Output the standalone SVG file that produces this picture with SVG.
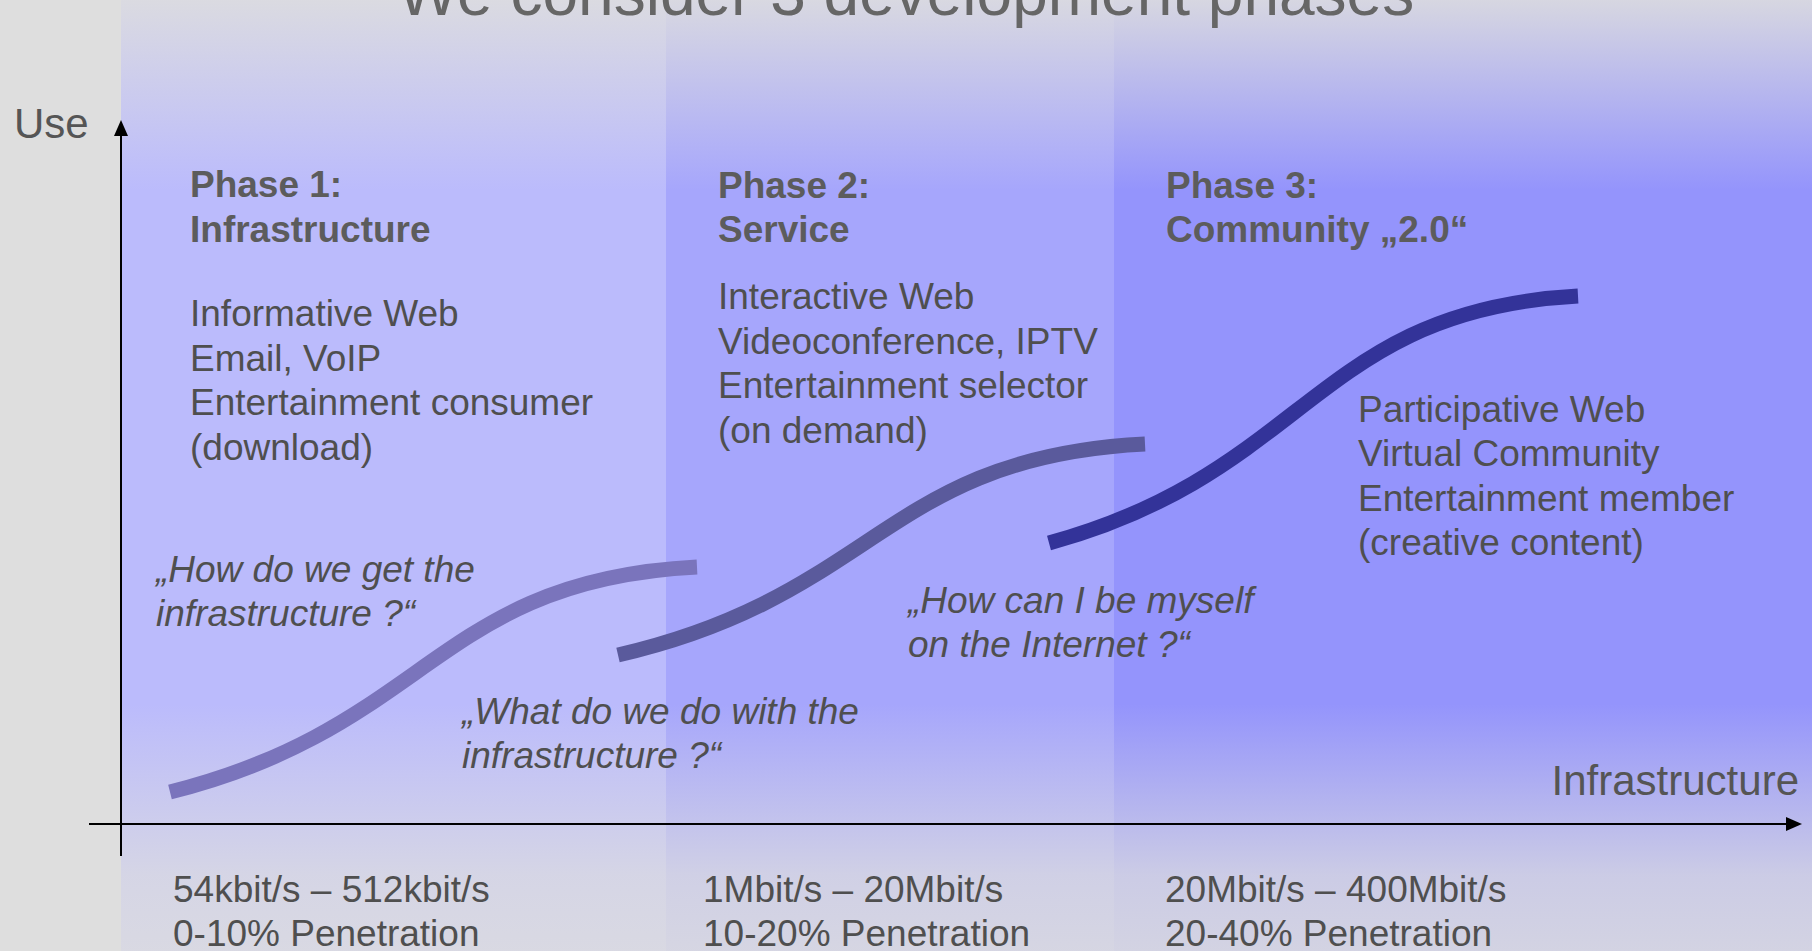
<svg xmlns="http://www.w3.org/2000/svg" width="1812" height="951" viewBox="0 0 1812 951">
  <defs>
    <linearGradient id="fade" x1="0" y1="0" x2="0" y2="1">
      <stop offset="0" stop-color="#dedede" stop-opacity="0.9"/>
      <stop offset="0.2" stop-color="#dedede" stop-opacity="0"/>
      <stop offset="0.74" stop-color="#dedede" stop-opacity="0"/>
      <stop offset="0.92" stop-color="#dedede" stop-opacity="0.75"/>
      <stop offset="1" stop-color="#dedede" stop-opacity="0.85"/>
    </linearGradient>
    <marker id="arrow" viewBox="0 0 16 16" refX="0" refY="8" markerWidth="16" markerHeight="16" markerUnits="userSpaceOnUse" orient="auto">
      <path d="M0,1 L16,8 L0,15 Z" fill="#000"/>
    </marker>
    <style>
      text { font-family: "Liberation Sans", Arial, sans-serif; }
      .title { font-size: 64px; fill: #666666; }
      .axis-label { font-size: 42px; fill: #555555; }
      .head { font-size: 37px; font-weight: bold; fill: #5c5c5c; }
      .body { font-size: 37px; fill: #4f4f4f; }
      .quote { font-size: 37px; font-style: italic; fill: #4f4f4f; }
      .curve { fill: none; stroke-width: 15; stroke-linecap: butt; }
      .axis { stroke: #000; stroke-width: 2; fill: none; }
    </style>
  </defs>

  <rect x="0" y="0" width="1812" height="951" fill="#dedede"/>

  <g id="columns">
    <rect id="col-phase1" x="121" y="0" width="545" height="951" fill="#bbbbfc"/>
    <rect id="col-phase2" x="666" y="0" width="448" height="951" fill="#a6a6fc"/>
    <rect id="col-phase3" x="1114" y="0" width="698" height="951" fill="#9494fc"/>
    <rect x="121" y="0" width="1691" height="951" fill="url(#fade)"/>
  </g>

  <g id="title">
    <text class="title" x="906" y="15" text-anchor="middle">We consider 3 development phases</text>
  </g>

  <g id="curves">
    <path id="curve1" class="curve" stroke="#7a74bc" d="M170,792 C430,727 437,580 697,567"/>
    <path id="curve2" class="curve" stroke="#5a5a9c" d="M618,655 C878,595 885,457 1145,444"/>
    <path id="curve3" class="curve" stroke="#333399" d="M1049,543 C1309,472 1316,310 1578,296"/>
  </g>

  <g id="connectors">
    <line class="axis" x1="121" y1="856" x2="121" y2="136" marker-end="url(#arrow)"/>
    <line class="axis" x1="89" y1="824" x2="1786" y2="824" marker-end="url(#arrow)"/>
  </g>

  <g id="axis-use">
    <text class="axis-label" x="14" y="138">Use</text>
  </g>
  <g id="axis-infrastructure">
    <text class="axis-label" x="1799" y="795" text-anchor="end">Infrastructure</text>
  </g>

  <g id="phase1">
    <text class="head" x="190" y="197">Phase 1:</text>
    <text class="head" x="190" y="242">Infrastructure</text>
    <text class="body" x="190" y="326">Informative Web</text>
    <text class="body" x="190" y="370.5">Email, VoIP</text>
    <text class="body" x="190" y="415">Entertainment consumer</text>
    <text class="body" x="190" y="459.5">(download)</text>
  </g>

  <g id="phase2">
    <text class="head" x="718" y="198">Phase 2:</text>
    <text class="head" x="718" y="242">Service</text>
    <text class="body" x="718" y="309">Interactive Web</text>
    <text class="body" x="718" y="353.5">Videoconference, IPTV</text>
    <text class="body" x="718" y="398">Entertainment selector</text>
    <text class="body" x="718" y="442.5">(on demand)</text>
  </g>

  <g id="phase3">
    <text class="head" x="1166" y="198">Phase 3:</text>
    <text class="head" x="1166" y="242">Community „2.0“</text>
    <text class="body" x="1358" y="421.5">Participative Web</text>
    <text class="body" x="1358" y="466">Virtual Community</text>
    <text class="body" x="1358" y="510.5">Entertainment member</text>
    <text class="body" x="1358" y="555">(creative content)</text>
  </g>

  <g id="quote1">
    <text class="quote" x="156" y="582">„How do we get the</text>
    <text class="quote" x="156" y="626">infrastructure ?“</text>
  </g>
  <g id="quote2">
    <text class="quote" x="462" y="724">„What do we do with the</text>
    <text class="quote" x="462" y="768">infrastructure ?“</text>
  </g>
  <g id="quote3">
    <text class="quote" x="908" y="613">„How can I be myself</text>
    <text class="quote" x="908" y="657">on the Internet ?“</text>
  </g>

  <g id="bandwidth1">
    <text class="body" x="173" y="902">54kbit/s – 512kbit/s</text>
    <text class="body" x="173" y="946">0-10% Penetration</text>
  </g>
  <g id="bandwidth2">
    <text class="body" x="703" y="902">1Mbit/s – 20Mbit/s</text>
    <text class="body" x="703" y="946">10-20% Penetration</text>
  </g>
  <g id="bandwidth3">
    <text class="body" x="1165" y="902">20Mbit/s – 400Mbit/s</text>
    <text class="body" x="1165" y="946">20-40% Penetration</text>
  </g>
</svg>
